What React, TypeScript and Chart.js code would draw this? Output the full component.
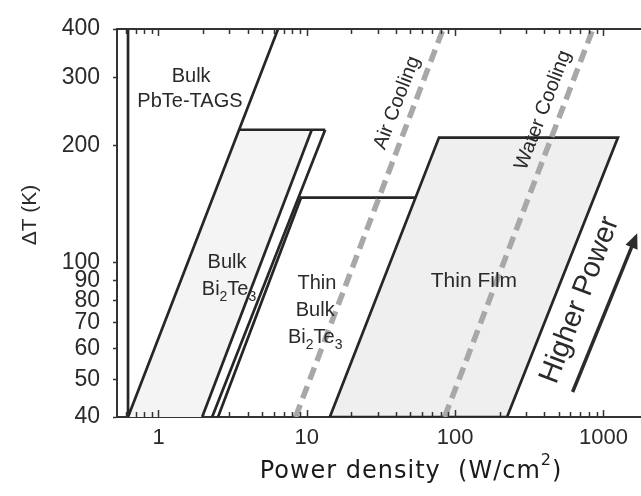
import React, { useEffect, useRef } from 'react';
import { Chart, registerables } from 'chart.js';

Chart.register(...registerables);

const FONT = "'Liberation Sans', Arial, Helvetica, sans-serif";
const TITLE_FONT = "'DejaVu Sans', Verdana, sans-serif";

// Axes
const xRange = [0.525, 1793];
const yRange = [40, 400];
const xTickValues = [1, 10, 100, 1000];
const yTickValues = [40, 50, 60, 70, 80, 90, 100, 200, 300, 400];

// Region boundaries: P (W/cm²) and ΔT (K)
const tagsP = [0.623, 0.623, 6.4];
const tagsT = [400, 40, 400];

const bulkFillP = [0.623, 3.49, 10.8, 1.97];
const bulkFillT = [40, 220, 220, 40];
const bulkTopP = [3.49, 13.3];
const bulkTopT = [220, 220];
const bulkEdgeAP = [1.97, 10.8];
const bulkEdgeAT = [40, 220];
const bulkEdgeBP = [2.3, 13.3];
const bulkEdgeBT = [40, 220];

const thinBulkP = [2.52, 9.14, 54];
const thinBulkT = [40, 147, 147];

const thinFilmP = [14.3, 77.9, 1253, 224, 14.3];
const thinFilmT = [40, 210, 210, 40, 40];

const airP = [8.4, 83];
const airT = [40, 400];
const waterP = [85, 850];
const waterT = [40, 400];

// Annotations
const labelText = ['Bulk', 'PbTe-TAGS', 'Bulk', 'Bi_2Te_3', 'Thin', 'Bulk', 'Bi_2Te_3', 'Thin Film'];
const labelP = [1.66, 1.63, 2.9, 2.99, 11.7, 11.4, 11.4, 134];
const labelT = [292, 252, 96.8, 82.5, 85.5, 72.8, 62.0, 86.5];
const labelSize = [20, 20, 20, 20, 20, 20, 20, 21];

const slantText = ['Air Cooling', 'Water Cooling', 'Higher Power'];
const slantP = [40.6, 392, 695];
const slantT = [258, 247, 80.1];
const slantSize = [20, 20, 29];

const arrowP = [620, 1690];
const arrowT = [46.4, 119];

const zip = (p: number[], t: number[]) => p.map((v, i) => ({ x: v, y: t[i] }));

type Part = { t: string; sub?: boolean; sup?: boolean };
function parseRich(s: string): Part[] {
  const parts: Part[] = [];
  let buf = '';
  for (let i = 0; i < s.length; i++) {
    const c = s[i];
    if ((c === '_' || c === '^') && i + 1 < s.length) {
      if (buf) parts.push({ t: buf });
      buf = '';
      parts.push(c === '_' ? { t: s[i + 1], sub: true } : { t: s[i + 1], sup: true });
      i++;
    } else buf += c;
  }
  if (buf) parts.push({ t: buf });
  return parts;
}

function drawRich(ctx: CanvasRenderingContext2D, s: string, cx: number, baseY: number, size: number, family: string) {
  const parts = parseRich(s);
  const fontFor = (p: Part) => `${p.sub || p.sup ? Math.round(size * 0.68) : size}px ${family}`;
  const widths = parts.map((p) => {
    ctx.font = fontFor(p);
    return ctx.measureText(p.t).width;
  });
  const total = widths.reduce((a, b) => a + b, 0);
  let xx = cx - total / 2;
  ctx.textAlign = 'left';
  ctx.textBaseline = 'alphabetic';
  parts.forEach((p, i) => {
    ctx.font = fontFor(p);
    const dy = p.sub ? size * 0.28 : p.sup ? -size * 0.55 : 0;
    ctx.fillText(p.t, xx, baseY + dy);
    xx += widths[i];
  });
}

const annotPlugin = {
  id: 'annot',
  afterDatasetsDraw(chart: any) {
    const { ctx, chartArea: a, scales } = chart;
    const x = scales.x;
    const y = scales.y;
    ctx.save();

    // top frame line
    ctx.strokeStyle = '#333';
    ctx.lineWidth = 2;
    ctx.beginPath();
    ctx.moveTo(a.left, a.top);
    ctx.lineTo(a.right, a.top);
    ctx.stroke();

    // inward minor ticks on top and bottom
    ctx.lineWidth = 1.5;
    ctx.strokeStyle = '#333';
    for (let d = -1; d <= 3; d++) {
      for (let m = 1; m <= 9; m++) {
        const v = m * Math.pow(10, d);
        if (v < x.min || v > x.max) continue;
        const px = Math.round(x.getPixelForValue(v)) + 0.5;
        const len = m === 1 ? 7 : 5;
        ctx.beginPath();
        ctx.moveTo(px, a.bottom);
        ctx.lineTo(px, a.bottom - len);
        ctx.moveTo(px, a.top);
        ctx.lineTo(px, a.top + len);
        ctx.stroke();
      }
    }

    // region labels
    ctx.fillStyle = '#2a2a2a';
    labelText.forEach((s, i) => {
      drawRich(ctx, s, x.getPixelForValue(labelP[i]), y.getPixelForValue(labelT[i]), labelSize[i], FONT);
    });

    // slanted labels (parallel to slope-1 lines in log-log)
    const ang = Math.atan2(
      y.getPixelForValue(400) - y.getPixelForValue(40),
      x.getPixelForValue(10) - x.getPixelForValue(1)
    );
    slantText.forEach((s, i) => {
      ctx.save();
      ctx.translate(x.getPixelForValue(slantP[i]), y.getPixelForValue(slantT[i]));
      ctx.rotate(ang);
      ctx.font = `${slantSize[i]}px ${FONT}`;
      ctx.textAlign = 'center';
      ctx.textBaseline = 'middle';
      ctx.fillText(s, 0, 0);
      ctx.restore();
    });

    // arrow
    const x0 = x.getPixelForValue(arrowP[0]);
    const y0 = y.getPixelForValue(arrowT[0]);
    const x1 = x.getPixelForValue(arrowP[1]);
    const y1 = y.getPixelForValue(arrowT[1]);
    const aa = Math.atan2(y1 - y0, x1 - x0);
    const hl = 15;
    const hw = 6.5;
    const bx = x1 - hl * Math.cos(aa);
    const by = y1 - hl * Math.sin(aa);
    ctx.strokeStyle = '#2b2b2b';
    ctx.fillStyle = '#2b2b2b';
    ctx.lineWidth = 3.5;
    ctx.beginPath();
    ctx.moveTo(x0, y0);
    ctx.lineTo(bx + 2 * Math.cos(aa), by + 2 * Math.sin(aa));
    ctx.stroke();
    ctx.beginPath();
    ctx.moveTo(x1, y1);
    ctx.lineTo(bx - hw * Math.sin(aa), by + hw * Math.cos(aa));
    ctx.lineTo(bx + hw * Math.sin(aa), by - hw * Math.cos(aa));
    ctx.closePath();
    ctx.fill();

    ctx.restore();
  },
  afterDraw(chart: any) {
    const { ctx } = chart;
    ctx.save();
    ctx.fillStyle = '#1a1a1a';
    // x axis title
    (ctx as any).letterSpacing = '1px';
    drawRich(ctx, 'Power density  (W/cm^2)', 411, 478, 24, TITLE_FONT);
    (ctx as any).letterSpacing = '0px';
    // y axis title
    ctx.translate(30, 215);
    ctx.rotate(-Math.PI / 2);
    ctx.font = `21px ${FONT}`;
    ctx.fillStyle = '#2a2a2a';
    ctx.textAlign = 'center';
    ctx.textBaseline = 'middle';
    ctx.fillText('\u0394T (K)', 0, 0);
    ctx.restore();
  },
};

const LINE = '#262626';

function lineSet(p: number[], t: number[], extra: any = {}) {
  return {
    data: zip(p, t),
    showLine: true,
    borderColor: LINE,
    borderWidth: 2.7,
    pointRadius: 0,
    tension: 0,
    fill: false,
    ...extra,
  };
}

export default function App() {
  const ref = useRef<HTMLCanvasElement | null>(null);

  useEffect(() => {
    if (!ref.current) return;
    const chart = new Chart(ref.current, {
      type: 'scatter',
      data: {
        datasets: [
          lineSet(airP, airT, { borderColor: '#a8a8a8', borderWidth: 5.5, borderDash: [13, 7] }),
          lineSet(waterP, waterT, { borderColor: '#a8a8a8', borderWidth: 5.5, borderDash: [13, 7] }),
          lineSet(tagsP, tagsT),
          lineSet(bulkTopP, bulkTopT),
          lineSet(bulkEdgeAP, bulkEdgeAT),
          lineSet(bulkEdgeBP, bulkEdgeBT),
          lineSet(thinBulkP, thinBulkT),
          lineSet(thinFilmP, thinFilmT, { fill: 'shape', backgroundColor: '#efefef' }),
          lineSet(bulkFillP, bulkFillT, { fill: 'shape', backgroundColor: '#f4f4f4', borderWidth: 0, borderColor: 'rgba(0,0,0,0)' }),
        ],
      },
      options: {
        animation: false,
        responsive: false,
        maintainAspectRatio: false,
        devicePixelRatio: 1,
        layout: { padding: { top: 29, left: 0, right: 0, bottom: 0 } },
        plugins: { legend: { display: false }, tooltip: { enabled: false } },
        scales: {
          x: {
            type: 'logarithmic',
            position: 'bottom',
            min: xRange[0],
            max: xRange[1],
            afterBuildTicks: (s: any) => {
              s.ticks = xTickValues.map((v) => ({ value: v }));
            },
            afterFit: (s: any) => {
              s.height = 79;
              s.paddingLeft = 0;
              s.paddingRight = 0;
            },
            ticks: {
              callback: (v: any) => String(v),
              font: { family: FONT, size: 22 },
              color: '#2a2a2a',
              padding: 8,
              maxRotation: 0,
              autoSkip: false,
            },
            grid: { drawOnChartArea: false, drawTicks: false },
            border: { display: true, color: '#333', width: 2 },
          },
          y: {
            type: 'logarithmic',
            position: 'left',
            min: yRange[0],
            max: yRange[1],
            afterBuildTicks: (s: any) => {
              s.ticks = yTickValues.map((v) => ({ value: v }));
            },
            afterFit: (s: any) => {
              s.width = 117;
              s.paddingTop = 0;
              s.paddingBottom = 0;
            },
            ticks: {
              callback: (v: any) => String(v),
              font: { family: FONT, size: 23 },
              color: '#2a2a2a',
              padding: 13,
              autoSkip: false,
            },
            grid: { drawOnChartArea: false, drawTicks: true, tickLength: 4, color: '#333', tickWidth: 1.5 },
            border: { display: true, color: '#333', width: 2 },
          },
        },
      },
      plugins: [annotPlugin],
    } as any);
    return () => chart.destroy();
  }, []);

  return (
    <div style={{ position: 'fixed', left: 0, top: 0, width: 641, height: 496, overflow: 'hidden', background: '#fff' }}>
      <canvas ref={ref} width={641} height={496} style={{ display: 'block', width: 641, height: 496 }} />
    </div>
  );
}
